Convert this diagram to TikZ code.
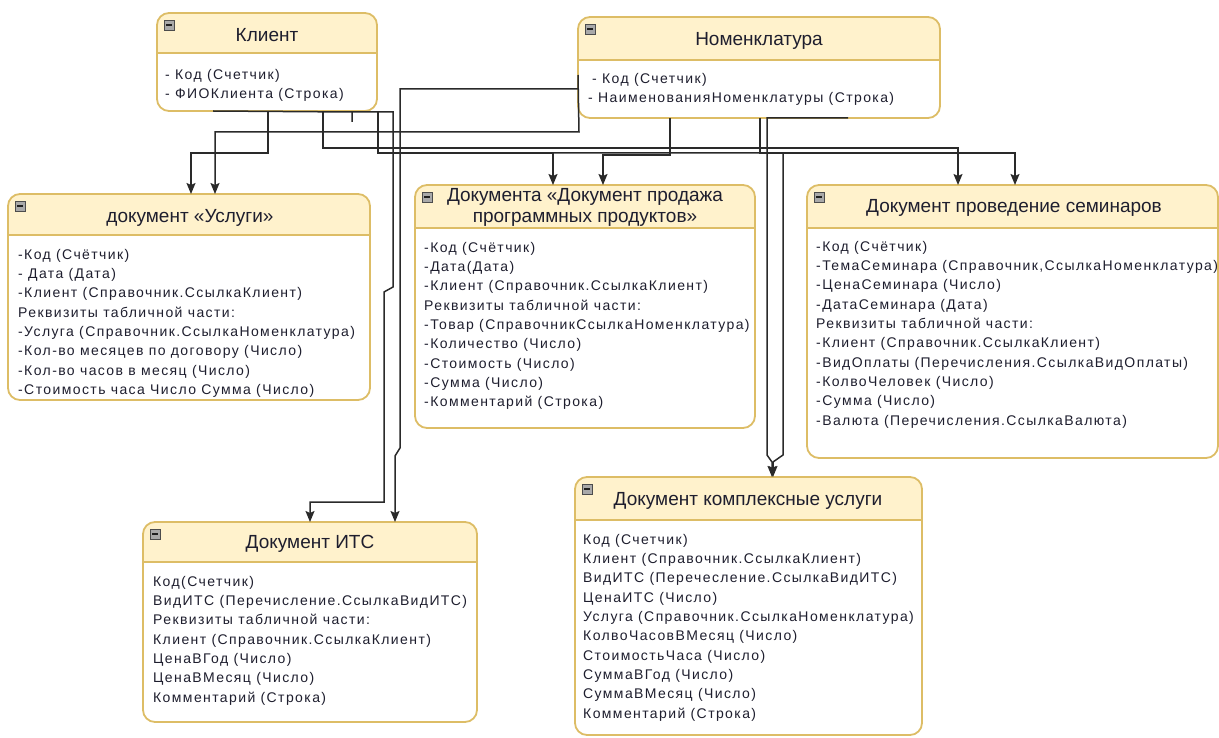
\documentclass[tikz,border=0pt]{standalone}
\usepackage{fontspec}
\setmainfont{Liberation Sans}
\newfontfamily\bodyfont[LetterSpace=10]{Liberation Sans}
\usetikzlibrary{arrows.meta,calc}

\definecolor{hdrfill}{HTML}{FFF2CC}
\definecolor{hdrline}{HTML}{DDBD66}
\definecolor{wire}{HTML}{2A2A2A}
\definecolor{ink}{HTML}{1E1E2E}
\definecolor{iconfill}{HTML}{A9A9A9}

\tikzset{
  entity/.style={draw=none, inner sep=0pt, outer sep=0pt, anchor=north west},
  frame/.style={draw=hdrline, line width=1.8pt},
  title/.style={font=\fontsize{19}{21}\selectfont, text=ink, align=center, inner sep=0pt},
  fields/.style={font=\bodyfont\fontsize{14}{19.3}\selectfont, text=ink, align=left, inner sep=0pt, anchor=north west},
  conn/.style={draw=wire, line width=1.5pt},
  arr/.style={conn, -{Stealth[length=11pt,width=9pt,inset=2pt]}},
}

% entity box: name, x, y, width, height, header height
\newcommand\entitybox[6]{%
  \node[entity, minimum width=#4pt, minimum height=#5pt] (#1) at (#2,#3) {};
  \fill[white, rounded corners=12pt] (#1.north west) rectangle (#1.south east);
  \begin{scope}
    \clip[rounded corners=12pt] (#1.north west) rectangle (#1.south east);
    \fill[hdrfill] (#1.north west) rectangle ([yshift=-#6pt]#1.north east);
  \end{scope}
  \draw[frame, rounded corners=12pt] (#1.north west) rectangle (#1.south east);
  \draw[frame] ([yshift=-#6pt]#1.north west) -- ([yshift=-#6pt]#1.north east);
  \draw[fill=iconfill, draw=gray!60!black, line width=0.5pt]
    ([xshift=7pt,yshift=-7pt]#1.north west) rectangle ++(10,10);
  \fill[gray!25!black] ([xshift=9pt,yshift=-11pt]#1.north west) rectangle ++(6,2);
}

\begin{document}
\begin{tikzpicture}[x=1pt,y=-1pt]
\useasboundingbox (0,0) rectangle (1219,738);

% ---------- entities ----------
\entitybox{klient}{157}{13}{220}{98}{40}
\entitybox{nomen}{578}{17}{362}{101}{43}
\entitybox{uslugi}{8}{194}{362}{206}{41}
\entitybox{prodazha}{415}{185}{340}{243}{43}
\entitybox{seminar}{807}{185}{411}{273}{43}
\entitybox{its}{143}{522}{334}{200}{40}
\entitybox{kompl}{575}{477}{347}{258}{43}

% ---------- titles ----------
\node[title] (klient-t) at (267,35) {Клиент};
\node[title] (nomen-t) at (759,41) {Номенклатура};
\node[title] (uslugi-t) at (190,218) {документ «Услуги»};
\node[title] (prodazha-t) at (585,207.5) {Документа «Документ продажа\\программных продуктов»};
\node[title] (seminar-t) at (1014,208) {Документ проведение семинаров};
\node[title] (its-t) at (310,544) {Документ ИТС};
\node[title] (kompl-t) at (748,501) {Документ комплексные услуги};

% ---------- fields ----------
\node[fields] (klient-f) at (165,69) {- Код (Счетчик)\\- ФИОКлиента (Строка)};
\node[fields] (nomen-f) at (588,73) {\hspace*{4pt}- Код (Счетчик)\\- НаименованияНоменклатуры (Строка)};
\node[fields] (uslugi-f) at (18,249) {-Код (Счётчик)\\- Дата (Дата)\\-Клиент (Справочник.СсылкаКлиент)\\Реквизиты табличной части:\\-Услуга (Справочник.СсылкаНоменклатура)\\-Кол-во месяцев по договору (Число)\\-Кол-во часов в месяц (Число)\\-Стоимость часа Число Сумма (Число)};
\node[fields] (prodazha-f) at (424,242) {-Код (Счётчик)\\-Дата(Дата)\\-Клиент (Справочник.СсылкаКлиент)\\Реквизиты табличной части:\\-Товар (СправочникСсылкаНоменклатура)\\-Количество (Число)\\-Стоимость (Число)\\-Сумма (Число)\\-Комментарий (Строка)};
\node[fields] (seminar-f) at (816,241) {-Код (Счётчик)\\-ТемаСеминара (Справочник,СсылкаНоменклатура)\\-ЦенаСеминара (Число)\\-ДатаСеминара (Дата)\\Реквизиты табличной части:\\-Клиент (Справочник.СсылкаКлиент)\\-ВидОплаты (Перечисления.СсылкаВидОплаты)\\-КолвоЧеловек (Число)\\-Сумма (Число)\\-Валюта (Перечисления.СсылкаВалюта)};
\node[fields] (its-f) at (153,576) {Код(Счетчик)\\ВидИТС (Перечисление.СсылкаВидИТС)\\Реквизиты табличной части:\\Клиент (Справочник.СсылкаКлиент)\\ЦенаВГод (Число)\\ЦенаВМесяц (Число)\\Комментарий (Строка)};
\node[fields] (kompl-f) at (583,534) {Код (Счетчик)\\Клиент (Справочник.СсылкаКлиент)\\ВидИТС (Перечесление.СсылкаВидИТС)\\ЦенаИТС (Число)\\Услуга (Справочник.СсылкаНоменклатура)\\КолвоЧасовВМесяц (Число)\\СтоимостьЧаса (Число)\\СуммаВГод (Число)\\СуммаВМесяц (Число)\\Комментарий (Строка)};

% ---------- connector bends ----------
\coordinate (k1a) at (268,153);  \coordinate (k1b) at (191,153);
\coordinate (n1a) at (579,75);   \coordinate (n1b) at (579,132);  \coordinate (n1c) at (215,132);
\coordinate (n2a) at (579,89);   \coordinate (n2b) at (400,89);   \coordinate (n2c) at (400,448);
\coordinate (n2d) at (395,456);
\coordinate (k2a) at (352,122);  \coordinate (k2b) at (352,112);  \coordinate (k2c) at (393,112);
\coordinate (k2d) at (393,287);  \coordinate (k2e) at (384,292);  \coordinate (k2f) at (384,502);
\coordinate (k2g) at (310,502);
\coordinate (k3a) at (323,148);  \coordinate (k3b) at (958,148);
\coordinate (k4a) at (378,153);  \coordinate (k4b) at (553,153);
\coordinate (k5a) at (783,153);  \coordinate (k5b) at (783,455);  \coordinate (k5c) at (773,462);
\coordinate (n3a) at (670,155);  \coordinate (n3b) at (603,155);
\coordinate (n4a) at (760,153);  \coordinate (n4b) at (1015,153);
\coordinate (n5a) at (848,118);  \coordinate (n5b) at (767,118);  \coordinate (n5c) at (767,455);
\coordinate (n5d) at (772,462);

% ---------- connectors ----------
\draw[arr] (klient.south -| k1a) -- (k1a) -- (k1b) -- (uslugi.north -| k1b);
\draw[arr] (nomen.west |- n1a) -- (n1b) -- (n1c) -- (uslugi.north -| n1c);
\draw[arr] (nomen.west |- n2a) -- (n2b) -- (n2c) -- (n2d) -- (its.north -| n2d);
\draw[arr] (k2a) -- (k2b) -- (k2c) -- (k2d) -- (k2e) -- (k2f) -- (k2g) -- (its.north -| k2g);
\draw[conn] (klient.south -| 213,0) -- (k2b);
\draw[arr] (klient.south -| k3a) -- (k3a) -- (k3b) -- (seminar.north -| k3b);
\draw[arr] (klient.south -| k4a) -- (k4a) -- (k4b) -- (prodazha.north -| k4b);
\draw[arr] (k4a) -- (k5a) -- (k5b) -- (k5c) -- (kompl.north -| k5c);
\draw[arr] (nomen.south -| n3a) -- (n3a) -- (n3b) -- (prodazha.north -| n3b);
\draw[arr] (nomen.south -| n4a) -- (n4a) -- (n4b) -- (seminar.north -| n4b);
\draw[arr] (n5a) -- (n5b) -- (n5c) -- (n5d) -- (kompl.north -| n5d);
\end{tikzpicture}
\end{document}
